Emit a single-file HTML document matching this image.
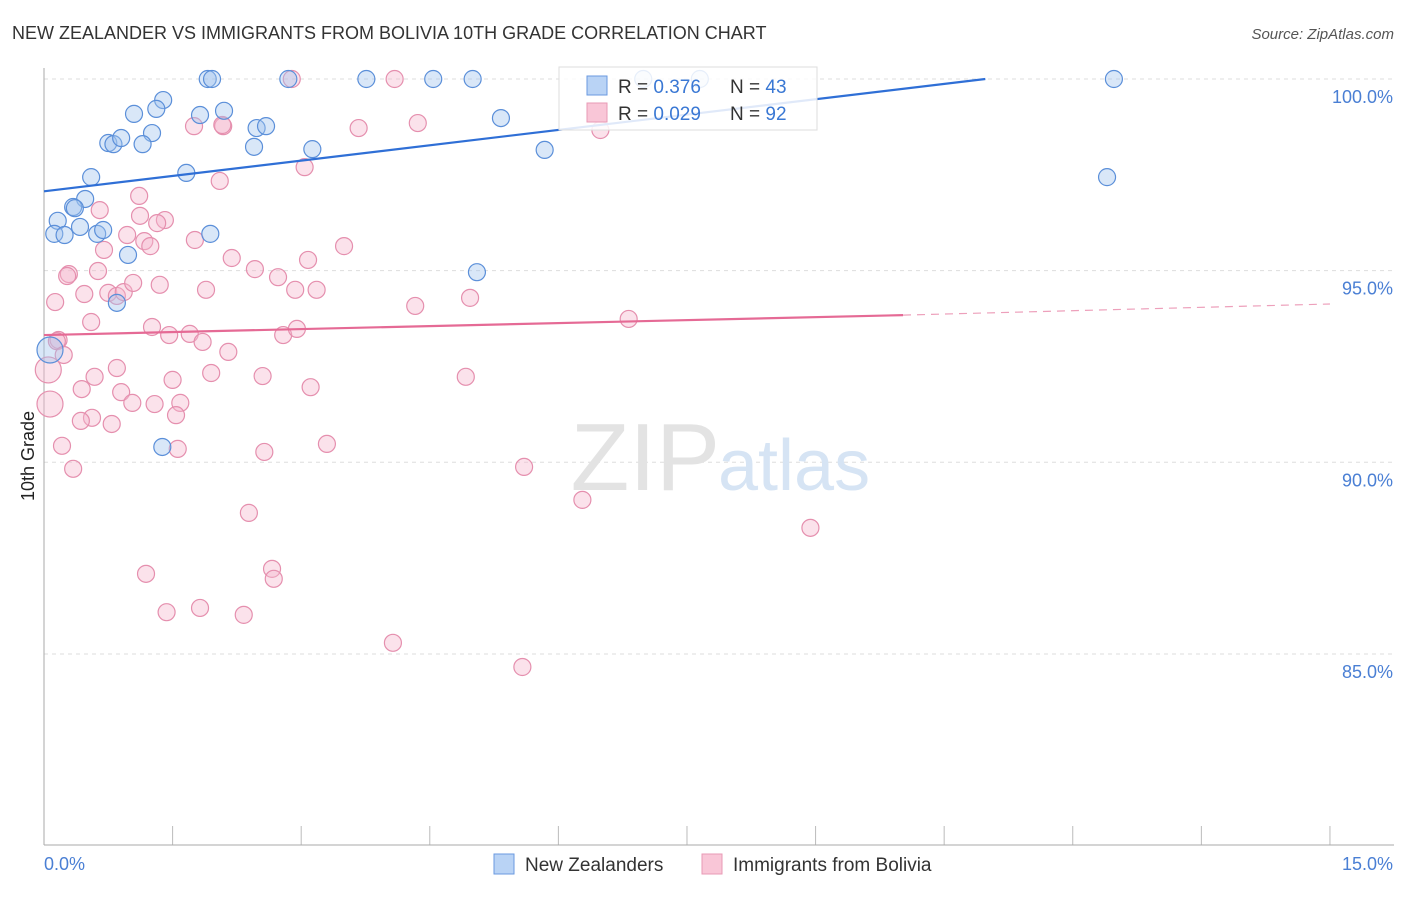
<!DOCTYPE html>
<html><head><meta charset="utf-8"><style>
body{margin:0;background:#fff;font-family:"Liberation Sans",sans-serif}
svg text{font-family:"Liberation Sans",sans-serif}
</style></head><body>
<svg width="1406" height="892" viewBox="0 0 1406 892">
<text x="12" y="39" font-size="18" fill="#333">NEW ZEALANDER VS IMMIGRANTS FROM BOLIVIA 10TH GRADE CORRELATION CHART</text>
<text x="1394" y="39" font-size="15" fill="#555" text-anchor="end" font-style="italic">Source: ZipAtlas.com</text>
<g id="grid"></g>
<text x="720" y="490" font-size="96" fill="#e3e3e3" text-anchor="end" font-family="Liberation Serif">ZIP</text>
<text x="718" y="490" font-size="72" fill="#d6e4f4">atlas</text>
<line x1="44" y1="68" x2="44" y2="845" stroke="#aaa"/>
<line x1="44" y1="845" x2="1394" y2="845" stroke="#aaa"/>
<text transform="translate(34,456) rotate(-90)" font-size="18" fill="#222" text-anchor="middle">10th Grade</text>
<text x="44" y="870" font-size="18" fill="#4a7fd4">0.0%</text>
<text x="1393" y="870" font-size="18" fill="#4a7fd4" text-anchor="end">15.0%</text>
<g id="pts"></g>
<g id="lines"></g>
<g>
<rect x="559" y="67" width="258" height="63" fill="#fff" fill-opacity="0.85" stroke="#ddd"/>
<rect x="587" y="76" width="20" height="19" fill="#b9d3f5" stroke="#6a9ae0"/>
<rect x="587" y="103" width="20" height="19" fill="#f9c6d7" stroke="#e89ab5"/>
<text x="618" y="93" font-size="19" fill="#333">R = <tspan fill="#3a78d4">0.376</tspan></text>
<text x="730" y="93" font-size="19" fill="#333">N = <tspan fill="#3a78d4">43</tspan></text>
<text x="618" y="120" font-size="19" fill="#333">R = <tspan fill="#3a78d4">0.029</tspan></text>
<text x="730" y="120" font-size="19" fill="#333">N = <tspan fill="#3a78d4">92</tspan></text>
</g>
<g>
<rect x="494" y="854" width="20" height="20" fill="#b9d3f5" stroke="#6a9ae0"/>
<text x="525" y="871" font-size="19" fill="#333">New Zealanders</text>
<rect x="702" y="854" width="20" height="20" fill="#f9c6d7" stroke="#e89ab5"/>
<text x="733" y="871" font-size="19" fill="#333">Immigrants from Bolivia</text>
</g>
</svg>
<script>
const yTicks=[100,95,90,85];
const xTicks=[0,1.5,3,4.5,6,7.5,9,10.5,12,13.5,15];
const blueX=[1.91,1.96,2.85,3.76,4.54,5.00,12.48,6.99,7.65,1.39,1.31,1.05,1.82,2.10,1.26,0.75,0.81,1.15,0.90,2.48,2.59,2.45,3.13,5.33,5.84,12.40,1.66,0.55,0.48,0.34,0.36,0.16,0.12,0.24,0.42,0.62,0.69,0.98,1.94,5.05,0.85,1.38,0.07];
const blueY=[100,100,100,100,100,100,100,100,100,99.45,99.22,99.09,99.06,99.17,98.59,98.33,98.30,98.30,98.46,98.72,98.77,98.23,98.17,98.98,98.15,97.44,97.55,97.44,96.87,96.66,96.63,96.30,95.96,95.93,96.14,95.96,96.06,95.41,95.96,94.96,94.16,90.40,92.93];
const pinkX=[2.89,4.09,2.09,2.08,1.75,3.67,4.36,6.49,3.04,2.05,1.11,1.12,1.41,0.65,1.32,0.97,1.17,1.24,1.76,0.70,2.19,2.46,3.50,3.08,2.73,2.93,3.18,4.33,4.97,0.63,0.29,0.27,0.13,0.47,0.75,0.85,0.93,1.04,1.35,1.89,0.55,1.26,1.46,1.70,1.85,2.79,2.95,0.17,0.15,0.23,2.15,6.82,0.05,0.85,0.59,1.50,1.95,2.55,3.11,0.44,0.90,1.03,1.29,1.59,1.54,0.56,0.43,0.79,0.07,0.21,1.56,2.57,3.30,0.34,4.92,5.60,6.28,2.39,8.94,1.19,2.66,2.68,1.43,1.82,2.33,4.07,5.58];
const pinkY=[100,100,98.77,98.80,98.77,98.72,98.85,98.67,97.70,97.34,96.95,96.43,96.32,96.58,96.24,95.93,95.77,95.64,95.80,95.54,95.33,95.04,95.64,95.28,94.83,94.50,94.50,94.08,94.29,94.99,94.91,94.86,94.18,94.39,94.42,94.34,94.44,94.68,94.63,94.50,93.66,93.53,93.32,93.35,93.14,93.32,93.48,93.19,93.16,92.80,92.88,93.74,92.41,92.46,92.23,92.15,92.33,92.25,91.96,91.91,91.83,91.55,91.52,91.55,91.23,91.16,91.08,91.00,91.52,90.43,90.35,90.27,90.48,89.83,92.23,89.88,89.02,88.68,88.29,87.09,87.22,86.96,86.09,86.20,86.02,85.29,84.66];
const blueTrend=[[0,97.07],[10.98,100]];
const pinkTrend=[[0,93.32],[10.02,93.84]];
const pinkDash=[[10.02,93.84],[15,94.13]];
const sx=v=>44+v*85.73, sy=v=>79+(100-v)*38.33;
const NS="http://www.w3.org/2000/svg";
const grid=document.getElementById('grid');
yTicks.forEach(t=>{
 const l=document.createElementNS(NS,'line');
 
 
 l.setAttribute('x1',44);l.setAttribute('x2',1394);l.setAttribute('y1',sy(t));l.setAttribute('y2',sy(t));
 l.setAttribute('stroke','#ddd');l.setAttribute('stroke-dasharray','4,4');grid.appendChild(l);
 const tx=document.createElementNS(NS,'text');
 
 
 tx.setAttribute('x',1393);tx.setAttribute('y',sy(t)+24);tx.setAttribute('text-anchor','end');
 tx.setAttribute('font-size','18');tx.setAttribute('fill','#4a7fd4');tx.textContent=t.toFixed(1)+'%';grid.appendChild(tx);
});
xTicks.forEach(t=>{
 const l=document.createElementNS(NS,'line');
 
 
 l.setAttribute('x1',sx(t));l.setAttribute('x2',sx(t));l.setAttribute('y1',826);l.setAttribute('y2',845);
 l.setAttribute('stroke','#bbb');grid.appendChild(l);
});
const pts=document.getElementById('pts');
function dots(xs,ys,fill,stroke,name){
 xs.forEach((x,i)=>{
  const c=document.createElementNS(NS,'circle');
  
  
  const big=x<0.1;
  c.setAttribute('cx',sx(x));c.setAttribute('cy',sy(ys[i]));c.setAttribute('r',big?13:8.5);
  c.setAttribute('fill',fill);c.setAttribute('fill-opacity','0.4');c.setAttribute('stroke',stroke);c.setAttribute('stroke-width','1.2');
  pts.appendChild(c);
 });
}
dots(pinkX,pinkY,'#f6b6cc','#e58fae','point-bolivia');
dots(blueX,blueY,'#9fc2ee','#5b8fd9','point-new-zealander');
const lines=document.getElementById('lines');
function line(p,color,dash,name){
 const l=document.createElementNS(NS,'line');
 
 
 l.setAttribute('x1',sx(p[0][0]));l.setAttribute('y1',sy(p[0][1]));l.setAttribute('x2',sx(p[1][0]));l.setAttribute('y2',sy(p[1][1]));
 l.setAttribute('stroke',color);l.setAttribute('stroke-width',dash?1.2:2.2);
 if(dash)l.setAttribute('stroke-dasharray','8,6');
 lines.appendChild(l);
}
line(blueTrend,'#2f6fd6',false,'trend-new-zealanders');
line(pinkTrend,'#e56a95',false,'trend-bolivia');
line(pinkDash,'#eda0bb',true,'trend-bolivia-extrapolated');
</script>
</body></html>
